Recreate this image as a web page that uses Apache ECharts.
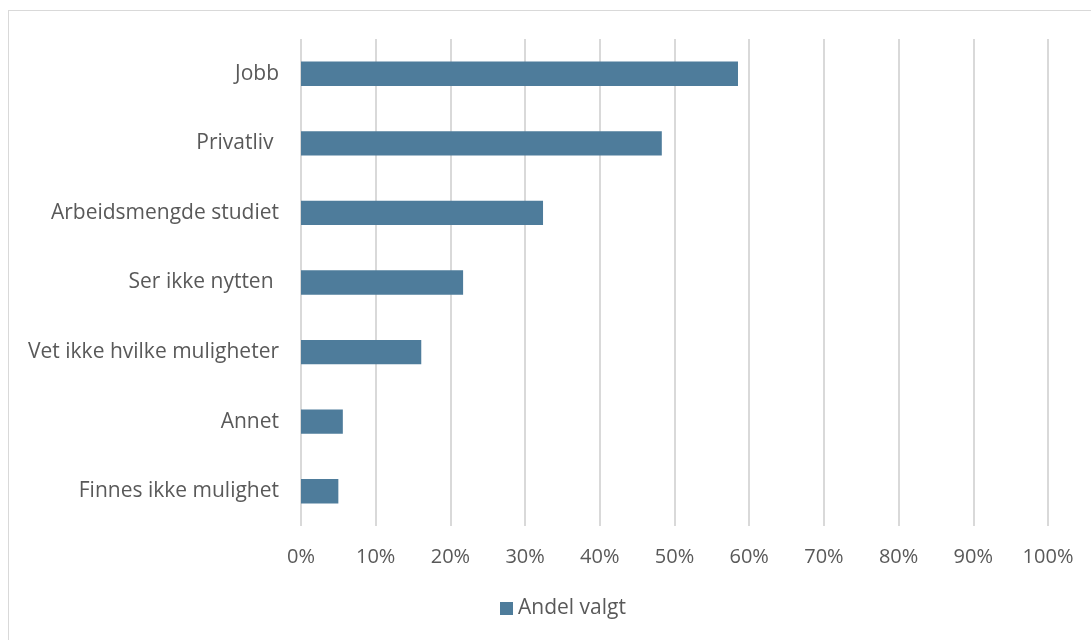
<!DOCTYPE html>
<html><head><meta charset="utf-8">
<script src="https://cdn.jsdelivr.net/npm/echarts@6/dist/echarts.min.js"></script>
<style>
html,body{margin:0;padding:0;background:#fff;}
#frame{position:absolute;left:8px;top:10px;width:1100px;height:650px;border:1px solid #d9d9d9;box-sizing:border-box;}
#c{position:absolute;left:0;top:0;width:1091px;height:640px;}
</style></head>
<body>
<div id="frame"></div>
<div id="c"></div>
<script>
const categories = ["Jobb","Privatliv ","Arbeidsmengde studiet","Ser ikke nytten ","Vet ikke hvilke muligheter","Annet","Finnes ikke mulighet"];
const values = [0.585, 0.483, 0.324, 0.217, 0.161, 0.056, 0.050];
const seriesName = "Andel valgt";
const chart = echarts.init(document.getElementById('c'));
chart.setOption({
  animation:false,
  textStyle:{fontFamily:"Open Sans, Liberation Sans, sans-serif"},
  grid:{left:301,right:43,top:39,bottom:114,containLabel:false},
  legend:{bottom:16,left:495,itemWidth:13,itemHeight:13,icon:'rect',itemGap:10,
    textStyle:{color:'#595959',fontSize:21,fontFamily:"Open Sans, sans-serif"},data:[seriesName]},
  xAxis:{type:'value',min:0,max:1,interval:0.1,
    axisLine:{show:false},axisTick:{show:false},
    splitLine:{lineStyle:{color:'#d9d9d9',width:2}},
    axisLabel:{formatter:v=>Math.round(v*100)+'%',color:'#595959',fontSize:20,margin:21}},
  yAxis:{type:'category',inverse:true,data:categories,
    axisLine:{show:false},axisTick:{show:false},
    axisLabel:{color:'#595959',fontSize:21,margin:22}},
  series:[{name:seriesName,type:'bar',data:values,barWidth:'35%',
    itemStyle:{color:'#4e7c9b'}}]
});
</script>
</body></html>
